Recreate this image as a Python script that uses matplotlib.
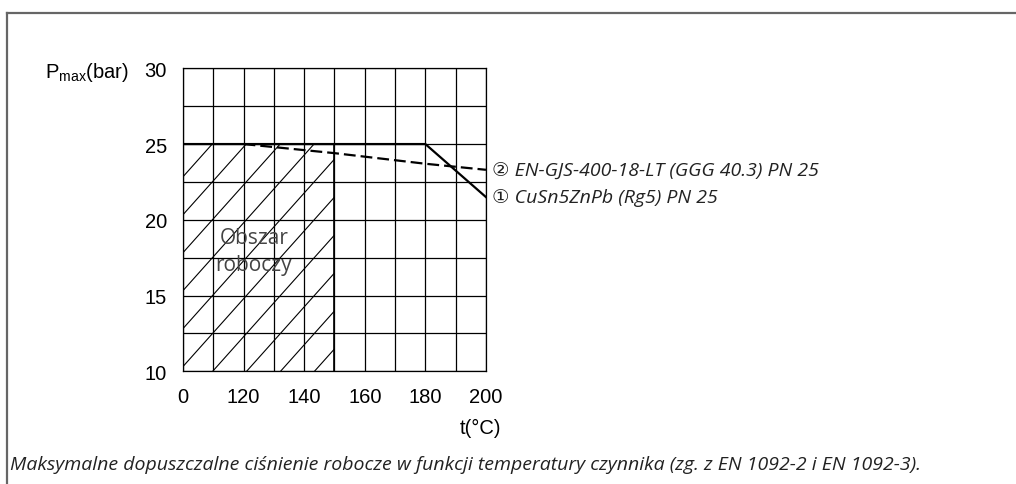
import numpy as np
import matplotlib
matplotlib.use('Agg')
import matplotlib.pyplot as plt
from matplotlib.lines import Line2D
from matplotlib.patches import Rectangle

plt.rcParams['font.family'] = ['Liberation Sans', 'DejaVu Sans']
plt.rcParams['mathtext.fontset'] = 'custom'
plt.rcParams['mathtext.rm'] = 'Liberation Sans'
plt.rcParams['lines.scale_dashes'] = False

## dane
t_cu = [100, 180, 200]            # CuSn5ZnPb (Rg5) PN 25
p_cu = [25, 25, 21.5]
t_ggg = [120, 150, 180, 200]      # EN-GJS-400-18-LT PN 25
p_ggg = [25, 24.4, 23.7, 23.3]
area_t = [100, 150]               # obszar roboczy
area_p = [10, 25]

x_ticks = [100, 120, 140, 160, 180, 200]
x_labels = ['0', '120', '140', '160', '180', '200']
y_ticks = [10, 15, 20, 25, 30]
label_cu = '\u2460 CuSn5ZnPb (Rg5) PN 25'
label_ggg = '\u2461 EN-GJS-400-18-LT (GGG 40.3) PN 25'
caption = ('Maksymalne dopuszczalne ciśnienie robocze w funkcji temperatury '
           'czynnika (zg. z EN 1092-2 i EN 1092-3).')

fig = plt.figure(figsize=(10.16, 4.85), dpi=100)
ax = fig.add_axes([0.1801, 0.2324, 0.2982, 0.6247])

# siatka
ax.set_xlim(100, 200)
ax.set_ylim(10, 30)
ax.set_xticks(np.arange(100, 201, 10))
ax.set_xticklabels([x_labels[x_ticks.index(t)] if t in x_ticks else '' for t in range(100, 201, 10)])
ax.set_yticks(np.arange(10, 30.1, 2.5))
ax.set_yticklabels([str(int(v)) if v in y_ticks else '' for v in np.arange(10, 30.1, 2.5)])
ax.tick_params(length=0, labelsize=14.5)
ax.tick_params(axis='y', pad=11.5)
ax.tick_params(axis='x', pad=11.5)
ax.grid(True, color='black', lw=0.9)
for s in ax.spines.values():
    s.set_linewidth(0.9)

# obszar roboczy - kreskowanie
rect = Rectangle((area_t[0], area_p[0]), area_t[1] - area_t[0], area_p[1] - area_p[0],
                 fill=False, edgecolor='none')
ax.add_patch(rect)
slope = 0.2237
for x0 in np.arange(98.6 - 11.2 * 6, area_t[1] + 1, 11.2):
    xs = np.array([x0, x0 + 100])
    ln, = ax.plot(xs, area_p[0] + slope * (xs - x0), color='black', lw=0.8)
    ln.set_clip_path(rect)
ax.plot([area_t[1], area_t[1]], area_p, color='black', lw=1.2)
ax.text(123.4, 18.86, 'Obszar', fontsize=15, family='Open Sans', color='#444444', ha='center', va='center')
ax.text(123.4, 17.08, 'roboczy', fontsize=15, family='Open Sans', color='#444444', ha='center', va='center')

# krzywe
ax.plot(t_ggg, p_ggg, color='black', lw=1.6, linestyle=(0, (8.5, 3.6)))
ax.plot(t_cu, p_cu, color='black', lw=1.6)

ax.text(1.02, (p_ggg[-1] - 10) / 20, label_ggg, transform=ax.transAxes, fontsize=14,
        family=['Open Sans', 'DejaVu Sans'], style='italic', va='center', ha='left', color='#222222')
ax.text(1.02, (p_cu[-1] - 10) / 20, label_cu, transform=ax.transAxes, fontsize=14,
        family=['Open Sans', 'DejaVu Sans'], style='italic', va='center', ha='left', color='#222222')

# opisy osi
fig.text(45 / 1016, 1 - 72 / 485, r'P$_{\mathrm{max}}$(bar)', fontsize=14.5, va='center', ha='left')
fig.text(481 / 1016, 1 - 428 / 485, 't(°C)', fontsize=14.5, va='center', ha='center')
fig.text(10 / 1016, 1 - 465 / 485, caption, fontsize=14, family='Open Sans', style='italic',
         va='center', ha='left', color='#222222')

# ramka
fig.add_artist(Line2D([7 / 1016, 1], [1 - 14 / 485, 1 - 14 / 485], color='#666666', lw=1.6))
fig.add_artist(Line2D([7 / 1016, 7 / 1016], [0, 1 - 14 / 485], color='#666666', lw=1.6))

plt.savefig('out.png', dpi=100)
